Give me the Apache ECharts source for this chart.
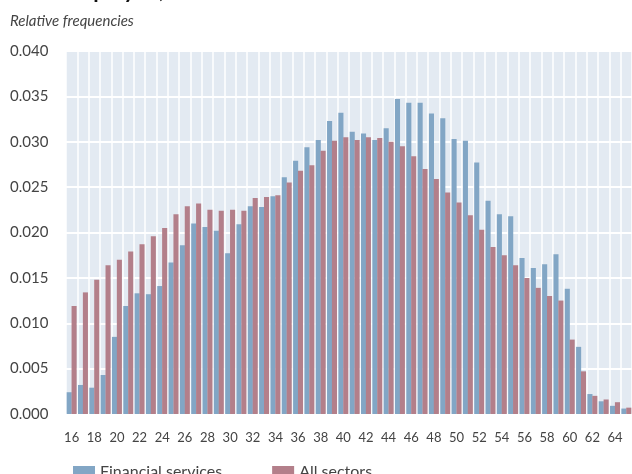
<!DOCTYPE html>
<html>
<head>
<meta charset="utf-8">
<script src="https://cdn.jsdelivr.net/npm/echarts@6/dist/echarts.min.js"></script>
<style>
  html, body { margin: 0; padding: 0; background: #fff; }
  #chart { width: 632px; height: 474px; }
</style>
</head>
<body>
<div id="chart"></div>
<script>
// ages 16..65
var ages = [];
for (var a = 16; a <= 65; a++) ages.push(String(a));

var financialServices = [
  0.0024, 0.0032, 0.0029, 0.0043, 0.0085, 0.0119, 0.0133, 0.0132, 0.0141, 0.0167,
  0.0186, 0.0210, 0.0206, 0.0202, 0.0177, 0.0209, 0.0229, 0.0228, 0.0240, 0.0261,
  0.0279, 0.0294, 0.0302, 0.0323, 0.0332, 0.0311, 0.0309, 0.0302, 0.0315, 0.0347,
  0.0343, 0.0343, 0.0331, 0.0326, 0.0303, 0.0301, 0.0277, 0.0235, 0.0220, 0.0218,
  0.0172, 0.0161, 0.0165, 0.0176, 0.0138, 0.0074, 0.0022, 0.0014, 0.0009, 0.0006
];
var allSectors = [
  0.0119, 0.0134, 0.0148, 0.0164, 0.0170, 0.0179, 0.0187, 0.0196, 0.0205, 0.0220,
  0.0229, 0.0232, 0.0225, 0.0224, 0.0225, 0.0224, 0.0238, 0.0239, 0.0241, 0.0255,
  0.0268, 0.0274, 0.0290, 0.0301, 0.0305, 0.0302, 0.0305, 0.0304, 0.0300, 0.0295,
  0.0284, 0.0270, 0.0259, 0.0244, 0.0233, 0.0219, 0.0203, 0.0184, 0.0175, 0.0164,
  0.0150, 0.0139, 0.0130, 0.0125, 0.0082, 0.0047, 0.0020, 0.0016, 0.0013, 0.0007
];

var chart = echarts.init(document.getElementById("chart"));
var font = "Lato, 'Open Sans', sans-serif";

var option = {
  animation: false,
  textStyle: { fontFamily: font },
  graphic: [
    {
      // title sits above the visible frame, only its descenders show
      type: "text",
      left: 10,
      top: -20,
      style: { text: "Total employed, 2019", font: "bold 22px " + font, fill: "#111" }
    },
    {
      type: "text",
      left: 10,
      top: 14,
      style: { text: "Relative frequencies", font: "italic 15px " + font, fill: "#444" }
    }
  ],
  grid: {
    left: 66,
    top: 51,
    width: 567,
    bottom: 60,
    show: true,
    backgroundColor: "#e3eaf2",
    borderWidth: 0
  },
  legend: {
    left: 68,
    top: 459,
    itemWidth: 22,
    itemHeight: 12,
    itemGap: 50,
    icon: "rect",
    textStyle: { fontSize: 16, color: "#444", fontFamily: font },
    data: ["Financial services", "All sectors"]
  },
  xAxis: {
    type: "category",
    data: ages,
    axisLine: { show: false },
    axisTick: { show: false },
    axisLabel: { interval: 1, fontSize: 13, color: "#444", margin: 17 },
    splitLine: { show: true, interval: 0, lineStyle: { color: "#ffffff", width: 1.5 } }
  },
  yAxis: {
    type: "value",
    min: 0,
    max: 0.04,
    interval: 0.005,
    axisLine: { show: false },
    axisTick: { show: false },
    axisLabel: {
      fontSize: 15,
      color: "#444",
      align: "left",
      margin: 56,
      formatter: function (v) { return v.toFixed(3); }
    },
    splitLine: { lineStyle: { color: "#ffffff", width: 2 } }
  },
  series: [
    {
      name: "Financial services",
      type: "bar",
      data: financialServices,
      barGap: "-4%",
      barCategoryGap: "12%",
      itemStyle: { color: "#82a6c5" }
    },
    {
      name: "All sectors",
      type: "bar",
      data: allSectors,
      itemStyle: { color: "#b37f8a" }
    }
  ]
};
chart.setOption(option);
</script>
</body>
</html>
